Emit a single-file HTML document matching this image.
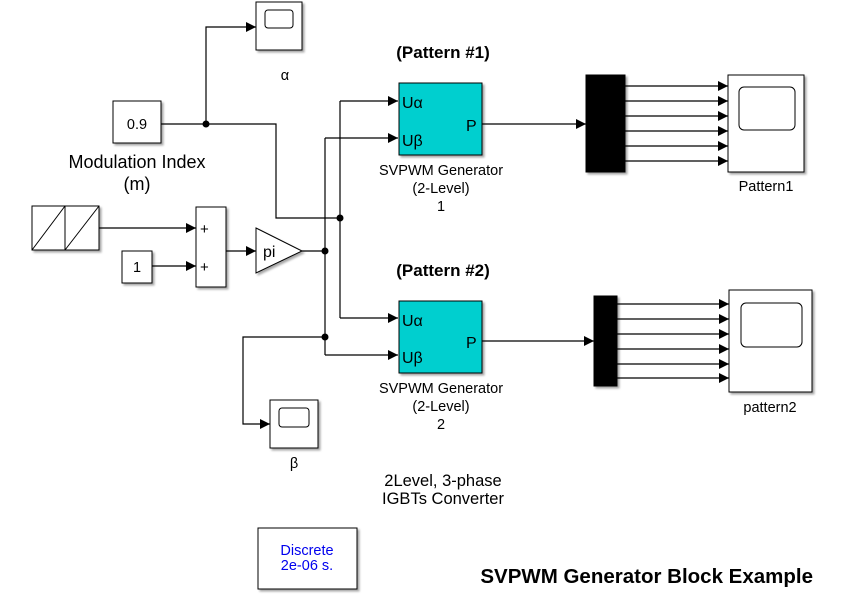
<!DOCTYPE html>
<html><head><meta charset="utf-8"><style>
html,body{margin:0;padding:0;background:#fff;}
svg{display:block;font-family:"Liberation Sans",Arial,sans-serif;}
</style></head><body>
<svg width="843" height="603" viewBox="0 0 843 603" xmlns="http://www.w3.org/2000/svg">
<defs>
<marker id="a" markerWidth="10" markerHeight="10" refX="10" refY="5" orient="auto" markerUnits="userSpaceOnUse"><path d="M0,0 L10,5 L0,10 z" fill="#000"/></marker>
<filter id="s" x="-10%" y="-10%" width="130%" height="130%"><feDropShadow dx="2" dy="2" stdDeviation="1" flood-color="#000" flood-opacity="0.35"/></filter>
</defs>
<g fill="none" stroke="#000" stroke-width="1.2">
<polyline points="161,124 276,124 276,218 340,218"/>
<polyline points="206,124 206,27 256,27" marker-end="url(#a)"/>
<polyline points="340,101 340,318"/>
<polyline points="340,101 398,101" marker-end="url(#a)"/>
<polyline points="340,318 398,318" marker-end="url(#a)"/>
<polyline points="302,251 325,251"/>
<polyline points="325,138 325,355"/>
<polyline points="325,138 398,138" marker-end="url(#a)"/>
<polyline points="325,355 398,355" marker-end="url(#a)"/>
<polyline points="325,337 243,337 243,424 270,424" marker-end="url(#a)"/>
<polyline points="99,228 196,228" marker-end="url(#a)"/>
<polyline points="152,266 196,266" marker-end="url(#a)"/>
<polyline points="226,251 256,251" marker-end="url(#a)"/>
<polyline points="482,124 586,124" marker-end="url(#a)"/>
<polyline points="482,341 594,341" marker-end="url(#a)"/>
<polyline points="625,86 728,86" marker-end="url(#a)"/>
<polyline points="625,101 728,101" marker-end="url(#a)"/>
<polyline points="625,116 728,116" marker-end="url(#a)"/>
<polyline points="625,131 728,131" marker-end="url(#a)"/>
<polyline points="625,146 728,146" marker-end="url(#a)"/>
<polyline points="625,161 728,161" marker-end="url(#a)"/>
<polyline points="617,304 729,304" marker-end="url(#a)"/>
<polyline points="617,319 729,319" marker-end="url(#a)"/>
<polyline points="617,334 729,334" marker-end="url(#a)"/>
<polyline points="617,349 729,349" marker-end="url(#a)"/>
<polyline points="617,364 729,364" marker-end="url(#a)"/>
<polyline points="617,378 729,378" marker-end="url(#a)"/>
</g>
<g fill="#000">
<circle cx="206" cy="124" r="3.5"/><circle cx="340" cy="218" r="3.5"/>
<circle cx="325" cy="251" r="3.5"/><circle cx="325" cy="337" r="3.5"/>
</g>
<g stroke="#000" stroke-width="1" fill="#fff" filter="url(#s)">
<rect x="113" y="101" width="48" height="42"/>
<rect x="256" y="2" width="46" height="48"/>
<rect x="32" y="206" width="67" height="44"/>
<rect x="122" y="251" width="30" height="32"/>
<rect x="196" y="207" width="30" height="80"/>
<polygon points="256,228 302,251 256,273"/>
<rect x="270" y="400" width="48" height="48"/>
<rect x="399" y="83" width="83" height="72" fill="#00cfcf"/>
<rect x="399" y="301" width="83" height="72" fill="#00cfcf"/>
<rect x="586" y="75" width="39" height="97" fill="#000"/>
<rect x="594" y="296" width="23" height="90" fill="#000"/>
<rect x="728" y="75" width="76" height="97"/>
<rect x="729" y="290" width="83" height="102"/>
<rect x="258" y="528" width="99" height="61"/>
</g>
<g fill="none" stroke="#000" stroke-width="1">
<rect x="265" y="10" width="28" height="18" rx="3"/>
<rect x="279" y="408" width="30" height="19" rx="3"/>
<rect x="739" y="87" width="56" height="43" rx="5"/>
<rect x="741" y="303" width="61" height="44" rx="5"/>
<line x1="65" y1="206" x2="65" y2="250"/>
<line x1="32" y1="250" x2="65" y2="206"/>
<line x1="65" y1="250" x2="99" y2="206"/>
</g>
<g font-size="14.5" fill="#000">
<text x="137" y="129" text-anchor="middle">0.9</text>
<text x="137" y="272" text-anchor="middle">1</text>
<text x="200" y="234" font-size="15">+</text><text x="200" y="272" font-size="15">+</text>
<text x="263" y="257" font-size="16">pi</text>
<text x="285" y="80" text-anchor="middle">α</text>
<text x="294" y="468" text-anchor="middle">β</text>
<text x="402" y="108" font-size="16">Uα</text><text x="402" y="146" font-size="16">Uβ</text>
<text x="466" y="131" font-size="16">P</text>
<text x="402" y="326" font-size="16">Uα</text><text x="402" y="363" font-size="16">Uβ</text>
<text x="466" y="348" font-size="16">P</text>
<text x="441" y="175" text-anchor="middle">SVPWM Generator</text>
<text x="441" y="193" text-anchor="middle">(2-Level)</text>
<text x="441" y="211" text-anchor="middle">1</text>
<text x="441" y="393" text-anchor="middle">SVPWM Generator</text>
<text x="441" y="411" text-anchor="middle">(2-Level)</text>
<text x="441" y="429" text-anchor="middle">2</text>
<text x="766" y="191" text-anchor="middle">Pattern1</text>
<text x="770" y="412" text-anchor="middle">pattern2</text>
<text x="137" y="168" text-anchor="middle" font-size="18">Modulation Index</text>
<text x="137" y="190" text-anchor="middle" font-size="18">(m)</text>
<text x="443" y="58" text-anchor="middle" font-size="17" font-weight="bold">(Pattern #1)</text>
<text x="443" y="276" text-anchor="middle" font-size="17" font-weight="bold">(Pattern #2)</text>
<text x="443" y="486" text-anchor="middle" font-size="16.5">2Level, 3-phase</text>
<text x="443" y="504" text-anchor="middle" font-size="16.5">IGBTs Converter</text>
<text x="307" y="555" text-anchor="middle" fill="#0000ee">Discrete</text>
<text x="307" y="570" text-anchor="middle" fill="#0000ee">2e-06 s.</text>
<text x="813" y="583" text-anchor="end" font-size="20.5" font-weight="bold">SVPWM Generator Block Example</text>
</g>
</svg>
</body></html>
